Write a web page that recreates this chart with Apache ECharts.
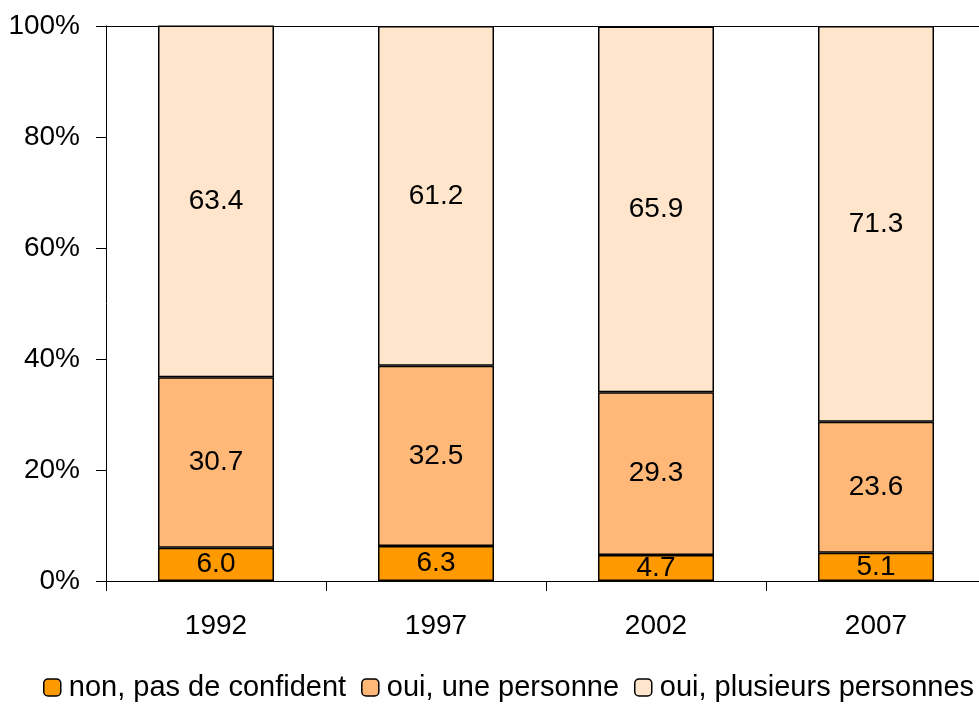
<!DOCTYPE html>
<html>
<head>
<meta charset="utf-8">
<script src="https://cdn.jsdelivr.net/npm/echarts@6/dist/echarts.min.js"></script>
<style>
html, body { margin: 0; padding: 0; background: #fff; overflow: hidden; }
#container { width: 986px; height: 707px; }
</style>
</head>
<body>
<div id="container"></div>
<script>
var years = ['1992', '1997', '2002', '2007'];
var nonConfident = [6.0, 6.3, 4.7, 5.1];
var unePersonne = [30.7, 32.5, 29.3, 23.6];
var plusieursPersonnes = [63.4, 61.2, 65.9, 71.3];
var seriesNames = ['non, pas de confident', 'oui, une personne', 'oui, plusieurs personnes'];

var dom = document.getElementById("container");
var myChart = echarts.init(dom);
var fontFam = '"Liberation Sans", Arial, sans-serif';

function makeSeries(name, data, color) {
    return {
        name: name,
        type: 'bar',
        stack: 'total',
        barWidth: 116,
        data: data,
        itemStyle: { color: color, borderColor: '#000', borderWidth: 1.5 },
        label: {
            show: true,
            position: 'inside',
            color: '#000',
            fontSize: 28,
            fontFamily: fontFam,
            formatter: function (p) { return p.value.toFixed(1); }
        }
    };
}

var option = {
    animation: false,
    textStyle: { fontFamily: fontFam },
    grid: { left: 106, top: 26, right: 0, bottom: 126 },
    legend: {
        bottom: 0,
        left: 38,
        itemWidth: 17,
        itemHeight: 17,
        itemGap: 15,
        textStyle: { fontSize: 29, color: '#000', fontFamily: fontFam, padding: [0, 0, 0, 3] },
        data: seriesNames.map(function (n) {
            return { name: n, itemStyle: { borderColor: '#000', borderWidth: 1.5 } };
        })
    },
    xAxis: [{
        type: 'category',
        data: years,
        axisLine: { lineStyle: { color: '#000', width: 1 } },
        axisTick: { show: true, length: 10, interval: 0, lineStyle: { color: '#000' } },
        axisLabel: { color: '#000', fontSize: 28, margin: 31, fontFamily: fontFam }
    }, {
        type: 'category',
        position: 'top',
        data: years,
        axisLine: { lineStyle: { color: '#000', width: 1 } },
        axisTick: { show: false },
        axisLabel: { show: false }
    }],
    yAxis: {
        type: 'value',
        min: 0,
        max: 100,
        interval: 20,
        axisLine: { show: true, lineStyle: { color: '#000', width: 1 } },
        axisTick: { show: true, length: 10, lineStyle: { color: '#000' } },
        splitLine: { show: false },
        axisLabel: { color: '#000', fontSize: 28, margin: 26, fontFamily: fontFam, formatter: '{value}%' }
    },
    series: [
        makeSeries(seriesNames[0], nonConfident, '#FF9900'),
        makeSeries(seriesNames[1], unePersonne, '#FFB878'),
        makeSeries(seriesNames[2], plusieursPersonnes, '#FFE5CC')
    ]
};
myChart.setOption(option);
</script>
</body>
</html>
